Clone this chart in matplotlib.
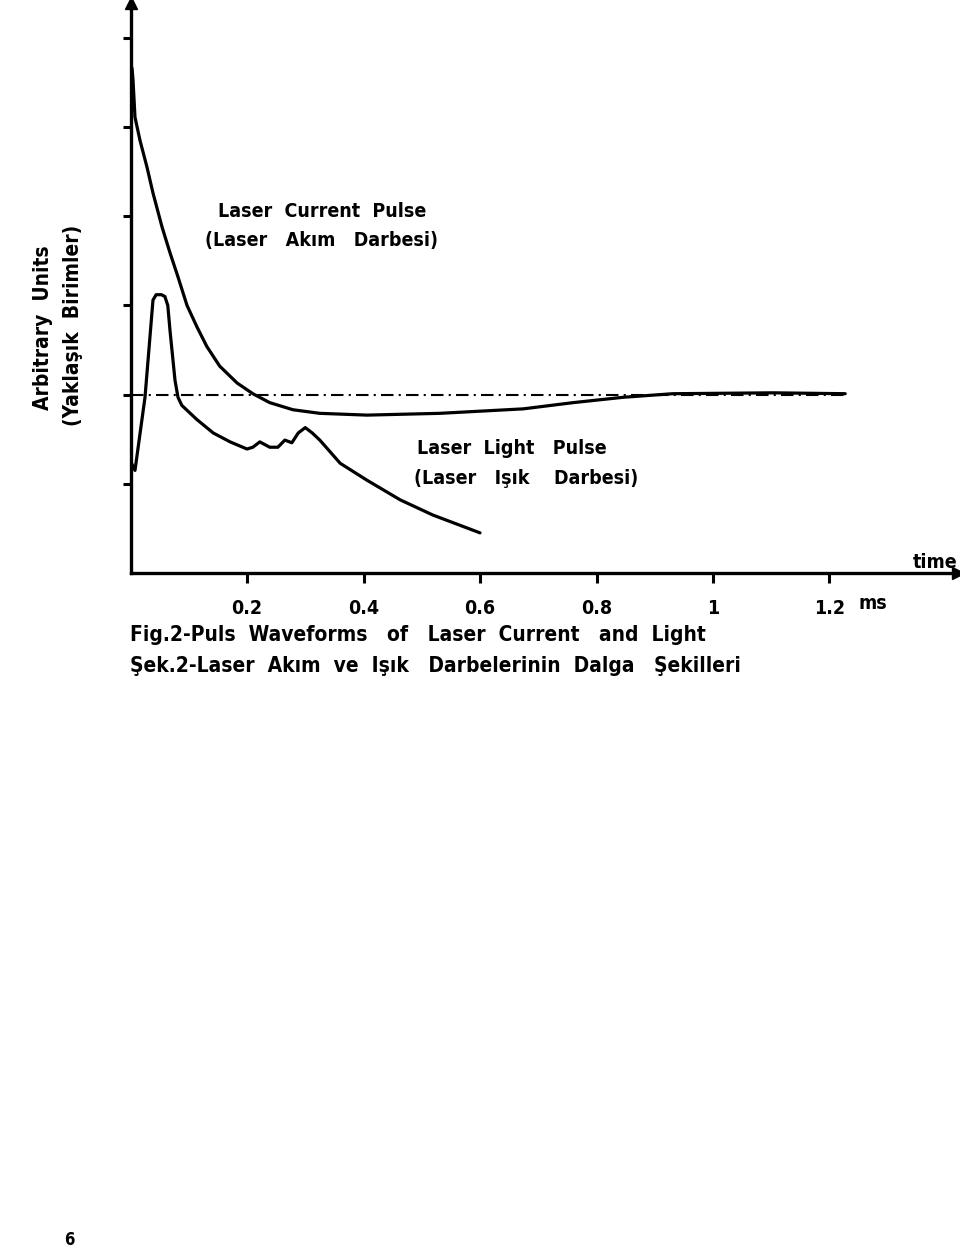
import matplotlib
matplotlib.use("Agg")
import matplotlib.pyplot as plt

# Laser current pulse (time in ms, arbitrary units)
current_t = [0.0026, 0.0043, 0.0077, 0.0163, 0.0283, 0.0386, 0.0541, 0.0678, 0.0815,
             0.097, 0.114, 0.131, 0.153, 0.183, 0.210, 0.239, 0.279, 0.325, 0.406,
             0.531, 0.674, 0.760, 0.846, 0.931, 1.103, 1.227]
current_v = [5.66, 5.53, 5.11, 4.85, 4.55, 4.26, 3.88, 3.59, 3.32,
             3.00, 2.76, 2.54, 2.32, 2.13, 2.01, 1.91, 1.83, 1.79, 1.77,
             1.79, 1.84, 1.91, 1.97, 2.01, 2.02, 2.01]

# Laser light pulse
light_t = [0.001, 0.0077, 0.0249, 0.0386, 0.044, 0.053, 0.059, 0.064, 0.0678, 0.0764,
           0.0815, 0.088, 0.114, 0.142, 0.171, 0.200, 0.210, 0.222, 0.239, 0.253,
           0.265, 0.277, 0.288, 0.300, 0.312, 0.325, 0.360, 0.406, 0.463, 0.519,
           0.600]
light_v = [1.24, 1.15, 1.97, 3.06, 3.12, 3.12, 3.10, 3.00, 2.72, 2.16,
           1.97, 1.88, 1.72, 1.57, 1.47, 1.39, 1.41, 1.47, 1.41, 1.41,
           1.49, 1.46, 1.57, 1.63, 1.57, 1.49, 1.23, 1.04, 0.82, 0.65,
           0.45]

# steady level (dash-dot reference)
ref_level = 2.0
ref_t = [0.0, 1.227]

x_ticks = [0.2, 0.4, 0.6, 0.8, 1.0, 1.2]
x_tick_labels = ["0.2", "0.4", "0.6", "0.8", "1", "1.2"]
y_ticks = [1, 2, 3, 4, 5, 6]

W, H = 960, 1252
fig = plt.figure(figsize=(W / 100, H / 100), dpi=100)

# axes placed in pixel terms: x=0 at 130.5 px, y=0 at 573 px
x0_px, y0_px = 130.5, 573
x_right_px, y_top_px = 958, 3
ax = fig.add_axes([x0_px / W, 1 - y0_px / H,
                   (x_right_px - x0_px) / W, (y0_px - y_top_px) / H])
ax.set_xlim(0, (x_right_px - x0_px) / 582.5)
ax.set_ylim(0, (y0_px - y_top_px) / 89.2)

lw = 2.3
ax.plot(current_t, current_v, color="black", lw=lw, solid_capstyle="round",
        solid_joinstyle="round")
ax.plot(light_t, light_v, color="black", lw=lw, solid_capstyle="round",
        solid_joinstyle="round")
ax.plot(ref_t, [ref_level, ref_level], color="black", lw=1.5,
        linestyle=(0, (6, 2.5, 1, 2.5)))

for side in ["top", "right"]:
    ax.spines[side].set_visible(False)
for side in ["left", "bottom"]:
    ax.spines[side].set_linewidth(2.4)

# arrow heads at axis ends
ax.plot(0, 1, marker="^", color="black", markersize=9, transform=ax.transAxes,
        clip_on=False)
ax.plot(1, 0, marker=">", color="black", markersize=9, transform=ax.transAxes,
        clip_on=False)

font = dict(family="DejaVu Sans", fontstretch="condensed", fontweight="bold",
            color="black")

ax.set_xticks(x_ticks)
ax.set_xticklabels(x_tick_labels, **font)
ax.set_yticks(y_ticks)
ax.set_yticklabels([])
ax.tick_params(axis="x", direction="out", length=7, width=2.2, pad=12,
               labelsize=14)
ax.tick_params(axis="y", direction="out", length=6, width=2.2)

ax.text(0.150, 4.05, "Laser  Current  Pulse", fontsize=14, va="center", **font)
ax.text(0.128, 3.73, "(Laser   Akım   Darbesi)", fontsize=14, va="center", **font)
ax.text(0.492, 1.40, "Laser  Light   Pulse", fontsize=14, va="center", **font)
ax.text(0.487, 1.065, "(Laser   Işık    Darbesi)", fontsize=14, va="center", **font)

fig.text(935 / W, 1 - 562 / H, "time", fontsize=14, ha="center", va="center", **font)
fig.text(873 / W, 1 - 603 / H, "ms", fontsize=14, ha="center", va="center", **font)

fig.text(43 / W, 1 - 328 / H, "Arbitrary  Units", fontsize=15, rotation=90,
         ha="center", va="center", **font)
fig.text(73 / W, 1 - 325 / H, "(Yaklaşık  Birimler)", fontsize=15, rotation=90,
         ha="center", va="center", **font)

fig.text(130 / W, 1 - 635 / H, "Fig.2-Puls  Waveforms   of   Laser  Current   and  Light",
         fontsize=15, ha="left", va="center", **font)
fig.text(130 / W, 1 - 666 / H, "Şek.2-Laser  Akım  ve  Işık   Darbelerinin  Dalga   Şekilleri",
         fontsize=15, ha="left", va="center", **font)

fig.text(69 / W, 1 - 1240 / H, "6", fontsize=12, ha="center", va="center", **font)

fig.savefig("out.png", dpi=100, facecolor="white")
